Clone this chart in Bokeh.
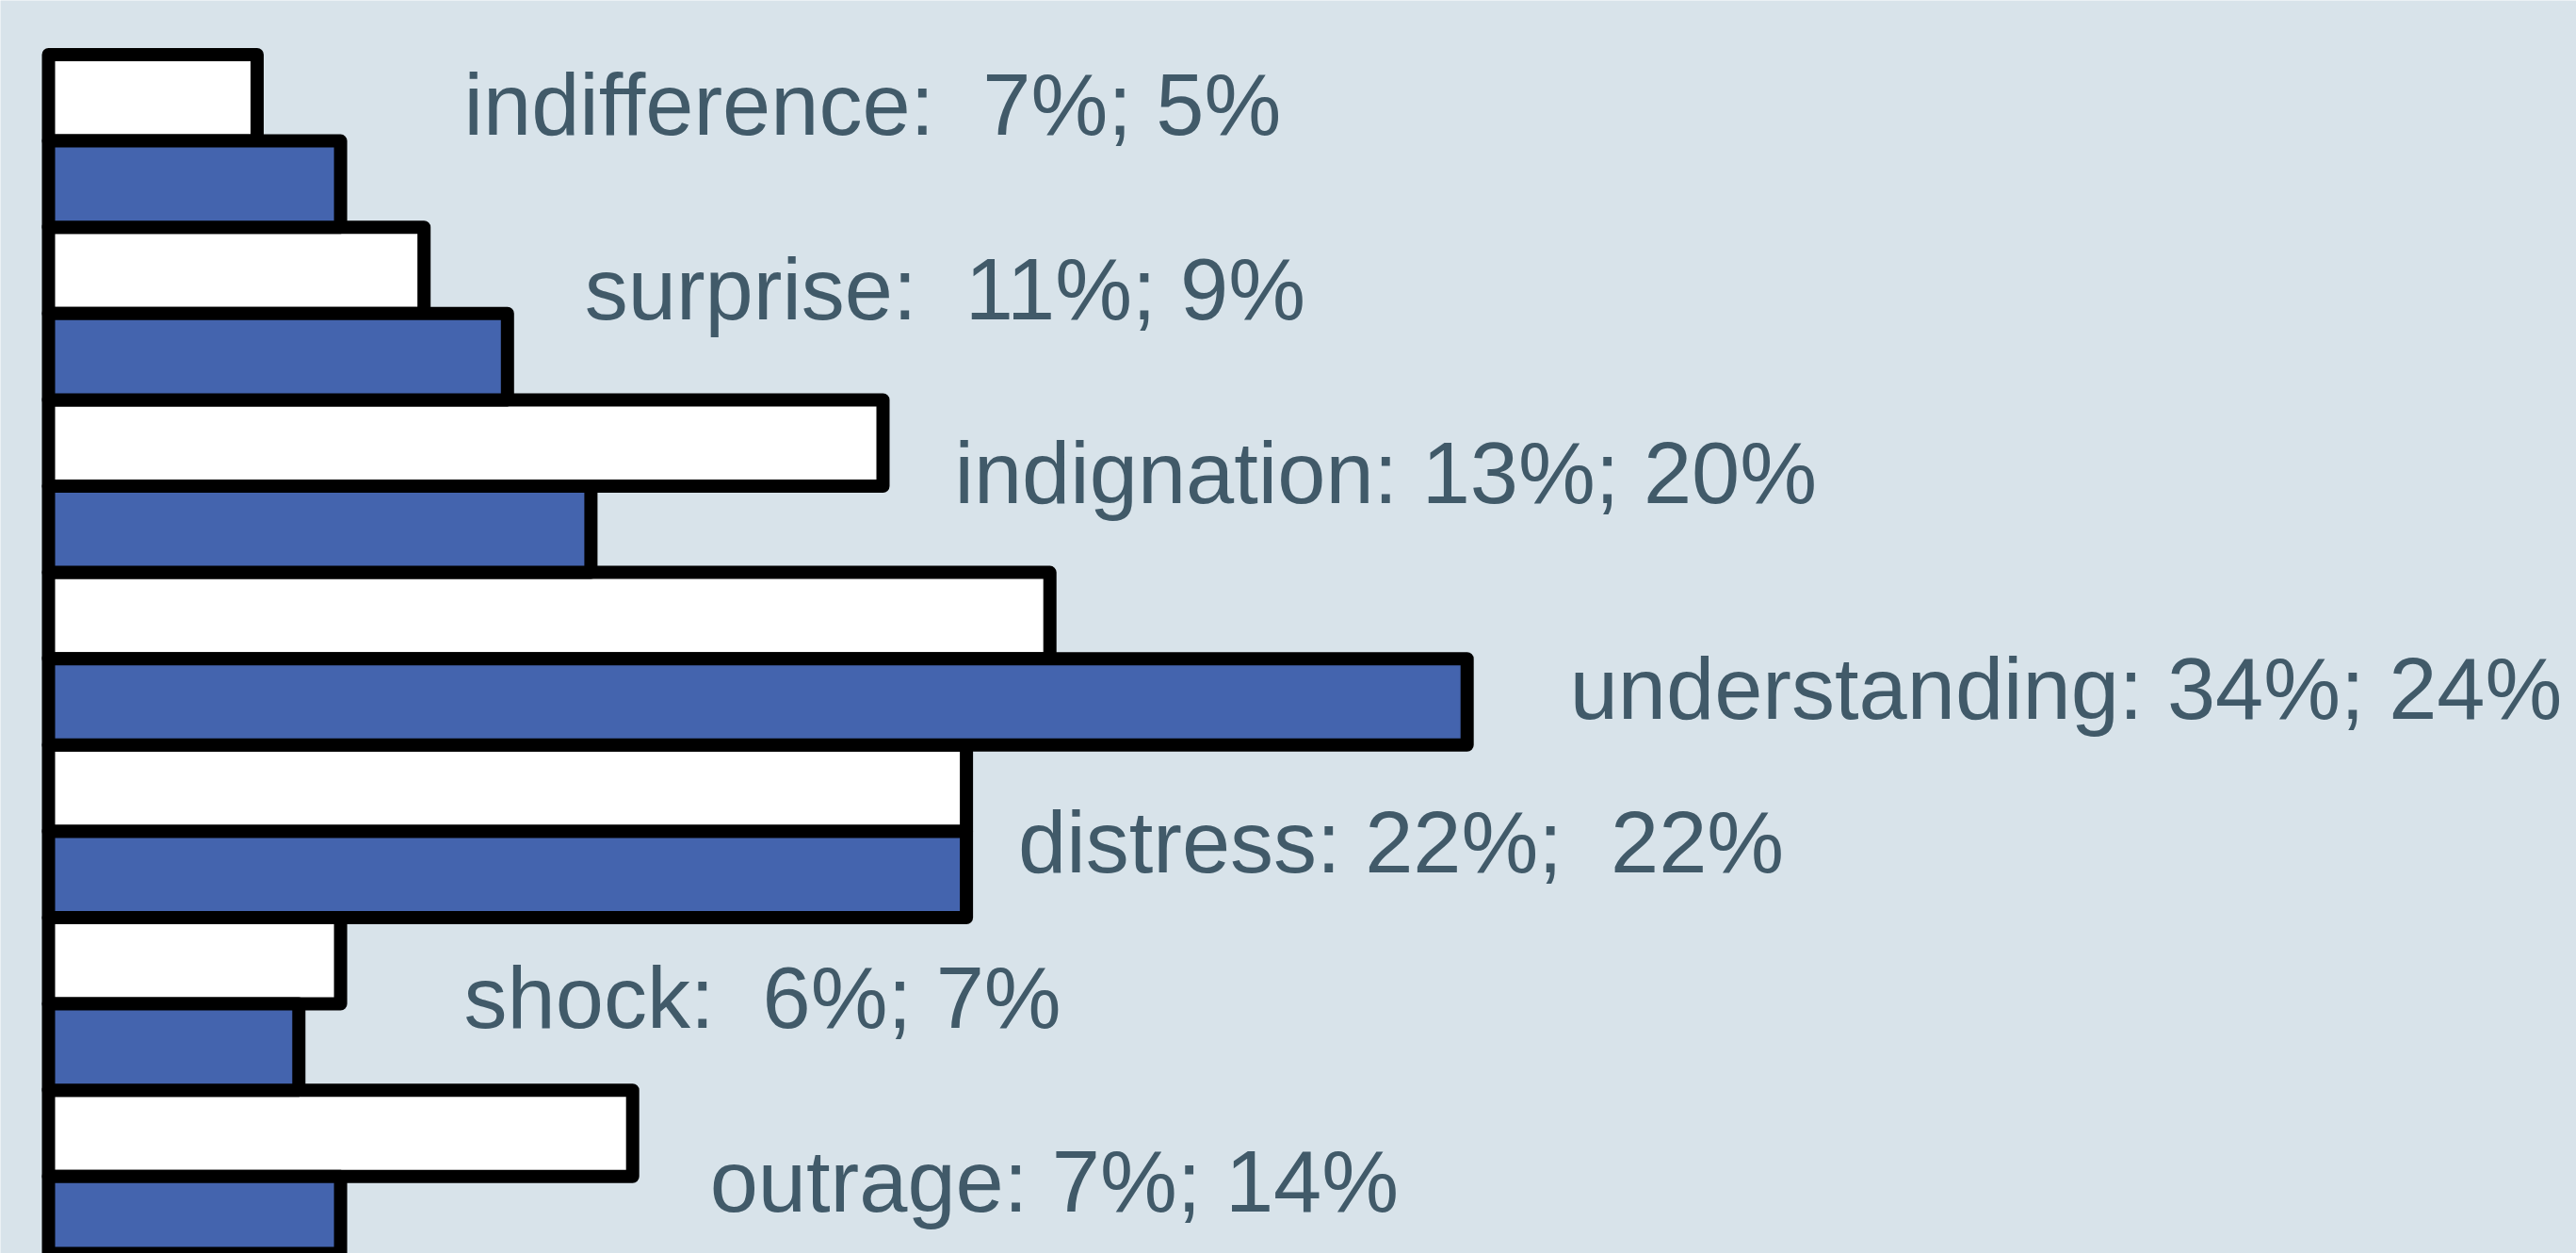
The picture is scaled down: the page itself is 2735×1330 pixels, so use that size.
from bokeh.plotting import figure
from bokeh.models import Range1d, ColumnDataSource
from bokeh.core.properties import value
from bokeh.embed import file_html
from bokeh.resources import INLINE

# ---- data ----
categories = ["indifference", "surprise", "indignation", "understanding",
              "distress", "shock", "outrage"]
blue_values = [7, 11, 13, 34, 22, 6, 7]      # first number in label
white_values = [5, 9, 20, 24, 22, 7, 14]     # second number in label
NB = "\u00a0"
labels = ["indifference:" + NB + " 7%; 5%", "surprise:" + NB + " 11%; 9%",
          "indignation: 13%; 20%", "understanding: 34%; 24%",
          "distress: 22%;" + NB + " 22%", "shock:" + NB + " 6%; 7%",
          "outrage: 7%; 14%"]

# ---- layout (screen px offsets of the labels) ----
label_dx = [131, 82, 76, 109, 55, 131, 82]
label_dy = [-39, -26, -14, 32, 12, -7, 5]

BG = "#d8e3ea"
BLUE = "#4464ae"
TEXT = "#415a69"

W, H = 2735, 1330
px_per_unit = 44.3
x0 = -51 / px_per_unit
pitch = 91.6
y_top = -57.5 / pitch
y_bot = (H - 57.5) / pitch

p = figure(width=W, height=H, output_backend="svg", toolbar_location=None,
           x_range=Range1d(x0, x0 + W / px_per_unit),
           y_range=Range1d(y_bot, y_top),
           x_axis_location=None, y_axis_location=None, min_border=0)
p.background_fill_color = BG
p.border_fill_color = BG
p.outline_line_color = None
p.xgrid.visible = False
p.ygrid.visible = False

n = len(categories)
white_src = ColumnDataSource(dict(y=[2 * k + 0.5 for k in range(n)], right=white_values))
blue_src = ColumnDataSource(dict(y=[2 * k + 1.5 for k in range(n)], right=blue_values))

p.hbar(y="y", left=0, right="right", height=1.0, source=white_src,
       fill_color="white", line_color="black", line_width=14, line_join="round")
p.hbar(y="y", left=0, right="right", height=1.0, source=blue_src,
       fill_color=BLUE, line_color="black", line_width=14, line_join="round")

lab_src = ColumnDataSource(dict(
    x=[max(b, w) for b, w in zip(blue_values, white_values)],
    y=[2 * k + 1.0 for k in range(n)],
    text=labels, dx=label_dx, dy=label_dy))
p.text(x="x", y="y", text="text", x_offset="dx", y_offset="dy", source=lab_src,
       text_font=value("Liberation Sans"), text_font_size="92px",
       text_color=TEXT, text_align="left", text_baseline="alphabetic")

open("out.html", "w").write(file_html(p, INLINE))
